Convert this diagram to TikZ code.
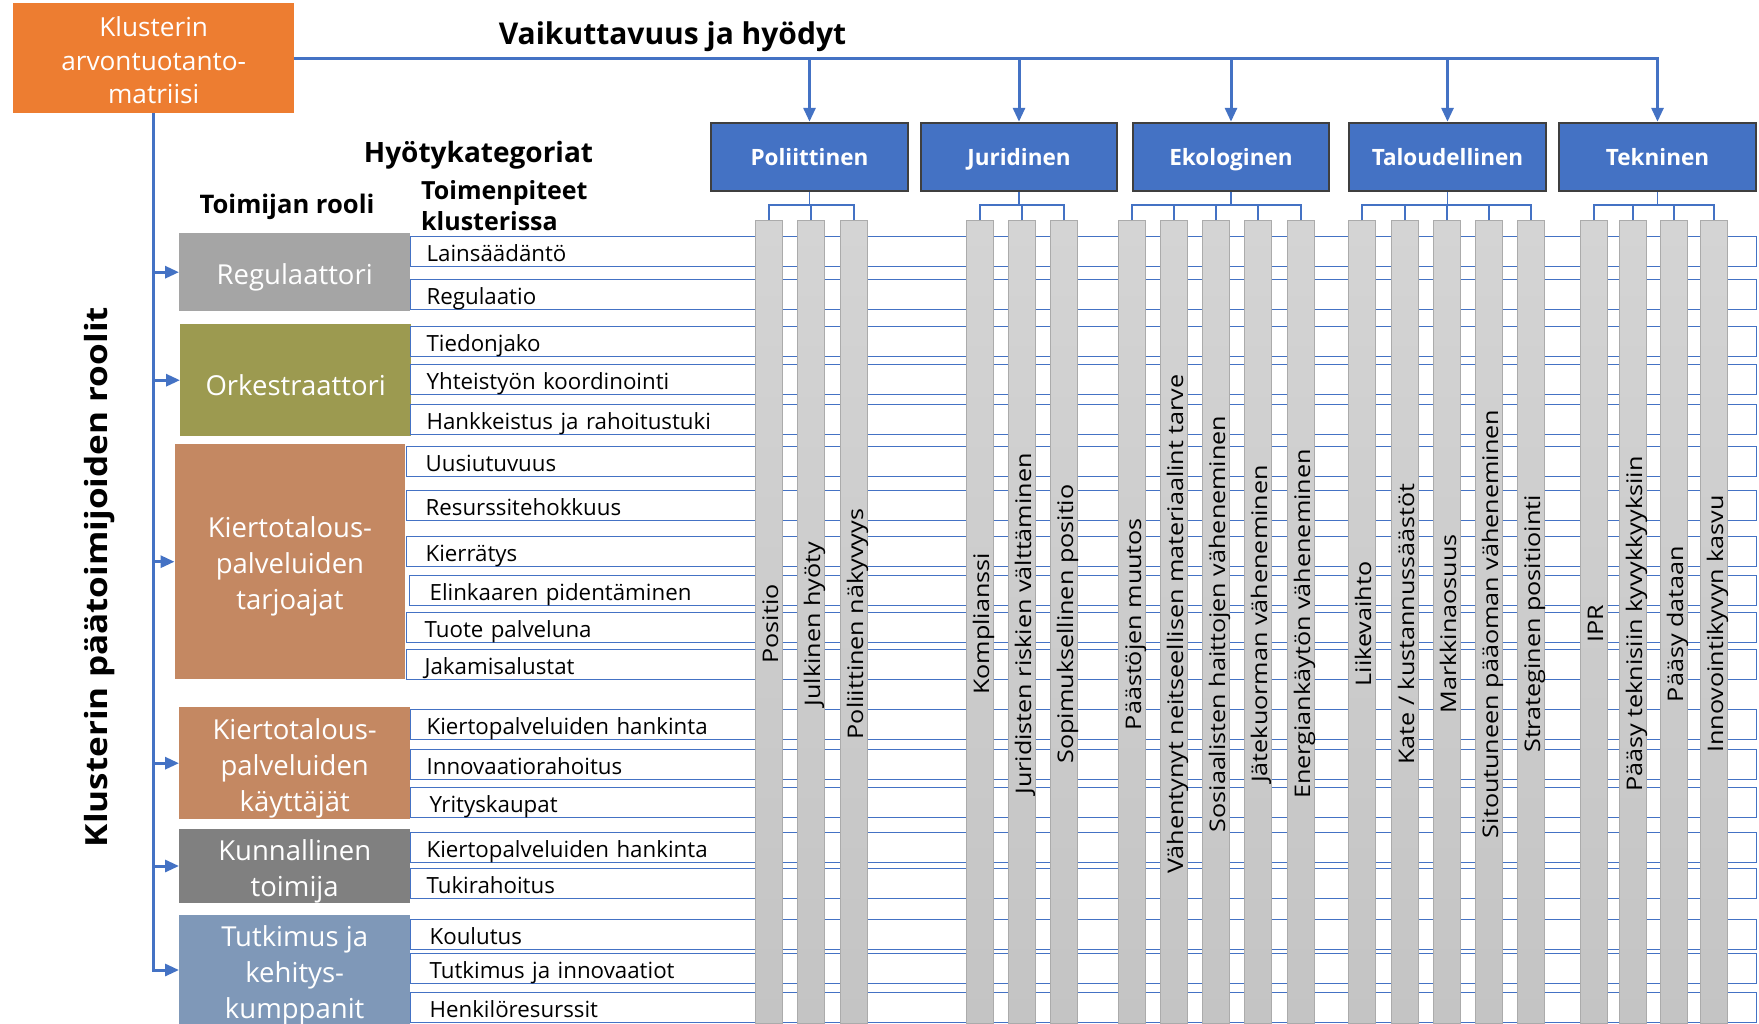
\documentclass[tikz,border=0pt]{standalone}
\usepackage{fontspec}
\setmainfont{Open Sans}
\newfontfamily\vertfam{Open Sans}[FakeStretch=1.17]
\newfontfamily\sidefam{Open Sans}[FakeStretch=1.15]
\usetikzlibrary{arrows.meta,calc}
\definecolor{lnblue}{HTML}{4472C4}
\definecolor{catdraw}{HTML}{3F3F3F}
\definecolor{orgc}{HTML}{ED7D31}
\definecolor{regc}{HTML}{A5A5A5}
\definecolor{orkc}{HTML}{9C9A50}
\definecolor{tarc}{HTML}{C48862}
\definecolor{kunc}{HTML}{808080}
\definecolor{tutc}{HTML}{7F98B8}
\definecolor{bartop}{HTML}{D4D4D4}
\definecolor{barbot}{HTML}{C4C4C4}
\definecolor{bardraw}{HTML}{ABABAB}
\newcommand\rowfnt{\fontsize{22.3}{26}\selectfont}
\newcommand\barfnt{\vertfam\fontsize{21.5}{26}\selectfont}
\newcommand\rolefnt{\fontsize{27.5}{36}\selectfont}
\newcommand\orgfnt{\fontsize{26.2}{33.6}\selectfont}
\newcommand\catfnt{\fontsize{22.5}{27}\selectfont\bfseries}
\newcommand\headfnt{\fontsize{25}{31}\selectfont\bfseries}
\newcommand\rtop{\rule{0pt}{31pt}}
\newcommand\otop{\rule{0pt}{24.4pt}}
\begin{document}
\begin{tikzpicture}[x=1pt,y=-1pt,
  mainln/.style={draw=lnblue,line width=3pt},
  conn/.style={draw=lnblue,line width=1.8pt},
  arr/.style={-{Triangle[length=14pt,width=12pt]}},
  rolebox/.style={anchor=north west,text=white,align=center,font=\rolefnt,inner sep=0pt},
  rowbox/.style n args={2}{anchor=north west,draw=lnblue,line width=1.2pt,fill=white,
     inner xsep=#1pt,text width=#2pt,inner ysep=0pt,minimum height=30pt,align=left,
     font=\rowfnt,text height=23pt,text depth=3pt},
  catbox/.style={draw=catdraw,line width=2.5pt,fill=lnblue,text=white,font=\catfnt,
     minimum height=68pt,inner sep=0pt,text height=22pt,text depth=6pt},
  bar/.style={anchor=north,draw=bardraw,line width=1.2pt,top color=bartop,bottom color=barbot,
     minimum width=27pt,minimum height=803pt,inner sep=0pt},
  barlab/.style={rotate=90,anchor=base,inner sep=0pt,font=\barfnt},
  head/.style={inner sep=0pt,font=\headfnt}
]
\fill[white] (0,0) rectangle (1759,1023);
\useasboundingbox (0,0) rectangle (1759,1023);

% top-left box and headings
\node[fill=orgc,text=white,font=\orgfnt,align=center,minimum width=281pt,minimum height=110pt,inner sep=0pt,anchor=north west]
  (org) at (13,3) {\otop Klusterin\\arvontuotanto-\\matriisi};
\node[head,font=\fontsize{30}{36}\selectfont\bfseries,anchor=base] (ttl) at (672.5,44) {Vaikuttavuus ja hyödyt};
\node[head,font=\fontsize{28}{34}\selectfont\bfseries,anchor=base] (hk) at (478.5,162) {Hyötykategoriat};
\node[head,font=\fontsize{25.6}{31}\selectfont\bfseries,anchor=base] (tr) at (287,213) {Toimijan rooli};
\node[head,anchor=base west] (tp1) at (421,199) {Toimenpiteet};
\node[head,anchor=base west] (tp2) at (421,230) {klusterissa};
\node[head,font=\sidefam\fontsize{30.5}{36}\selectfont\bfseries,rotate=90,anchor=base] (side) at (107,577) {Klusterin päätoimijoiden roolit};

% category boxes
\node[catbox,minimum width=197pt] (c1) at (809.5,157) {Poliittinen};
\node[catbox,minimum width=196pt] (c2) at (1019,157) {Juridinen};
\node[catbox,minimum width=196pt] (c3) at (1231,157) {Ekologinen};
\node[catbox,minimum width=197pt] (c4) at (1447.5,157) {Taloudellinen};
\node[catbox,minimum width=197pt] (c5) at (1657.5,157) {Tekninen};

% role boxes
\node[rolebox,fill=regc,minimum width=231pt,minimum height=78pt] (ro1) at (179,233) {\rtop Regulaattori};
\node[rolebox,fill=orkc,minimum width=231pt,minimum height=112pt] (ro2) at (180,324) {\rtop Orkestraattori};
\node[rolebox,fill=tarc,minimum width=230.5pt,minimum height=235pt] (ro3) at (174.5,444) {\rtop Kiertotalous-\\palveluiden\\tarjoajat};
\node[rolebox,fill=tarc,minimum width=231pt,minimum height=112pt] (ro4) at (179,707) {\rtop Kiertotalous-\\palveluiden\\käyttäjät};
\node[rolebox,fill=kunc,minimum width=231pt,minimum height=72pt] (ro5) at (179,829) {\rtop Kunnallinen\\toimija};
\node[rolebox,fill=tutc,minimum width=231pt,minimum height=106pt] (ro6) at (179,915) {\rtop Tutkimus ja\\kehitys-\\kumppanit};

% rows
\node[rowbox={16}{1314}] (w1) at (410,236) {Lainsäädäntö};
\node[rowbox={16}{1314}] (w2) at (410,279) {Regulaatio};
\node[rowbox={16}{1314}] (w3) at (410,326) {Tiedonjako};
\node[rowbox={16}{1314}] (w4) at (410,364) {Yhteistyön koordinointi};
\node[rowbox={16}{1314}] (w5) at (410,404) {Hankkeistus ja rahoitustuki};
\node[rowbox={19}{1312}] (w6) at (406,446) {Uusiutuvuus};
\node[rowbox={19}{1312}] (w7) at (406,490) {Resurssitehokkuus};
\node[rowbox={19}{1312}] (w8) at (406,536) {Kierrätys};
\node[rowbox={20}{1307}] (w9) at (409,575) {Elinkaaren pidentäminen};
\node[rowbox={18}{1314}] (w10) at (406,612) {Tuote palveluna};
\node[rowbox={18}{1314}] (w11) at (406,649) {Jakamisalustat};
\node[rowbox={16}{1314}] (w12) at (410,709) {Kiertopalveluiden hankinta};
\node[rowbox={16}{1314}] (w13) at (410,749) {Innovaatiorahoitus};
\node[rowbox={19}{1308}] (w14) at (410,787) {Yrityskaupat};
\node[rowbox={16}{1314}] (w15) at (410,832) {Kiertopalveluiden hankinta};
\node[rowbox={16}{1314}] (w16) at (410,868) {Tukirahoitus};
\node[rowbox={19}{1308}] (w17) at (410,919) {Koulutus};
\node[rowbox={19}{1308}] (w18) at (410,953) {Tutkimus ja innovaatiot};
\node[rowbox={19}{1308}] (w19) at (410,992) {Henkilöresurssit};

% bars
\node[bar] (bp1) at (769,220) {};
\node[bar] (bp2) at (811,220) {};
\node[bar] (bp3) at (854,220) {};
\node[bar] (bj1) at (980,220) {};
\node[bar] (bj2) at (1022,220) {};
\node[bar] (bj3) at (1064,220) {};
\node[bar] (be1) at (1132,220) {};
\node[bar] (be2) at (1174,220) {};
\node[bar] (be3) at (1216,220) {};
\node[bar] (be4) at (1258,220) {};
\node[bar] (be5) at (1301,220) {};
\node[bar] (bt1) at (1362,220) {};
\node[bar] (bt2) at (1405,220) {};
\node[bar] (bt3) at (1447,220) {};
\node[bar] (bt4) at (1489,220) {};
\node[bar] (bt5) at (1531,220) {};
\node[bar] (bk1) at (1594,220) {};
\node[bar] (bk2) at (1633,220) {};
\node[bar] (bk3) at (1674,220) {};
\node[bar] (bk4) at (1714,220) {};

% bar labels
\node[barlab] (lp1) at (778,624) {Positio};
\node[barlab] (lp2) at (820,624) {Julkinen hyöty};
\node[barlab] (lp3) at (863,624) {Poliittinen näkyvyys};
\node[barlab] (lj1) at (989,624) {Komplianssi};
\node[barlab] (lj2) at (1031,624) {Juridisten riskien välttäminen};
\node[barlab] (lj3) at (1073,624) {Sopimuksellinen positio};
\node[barlab] (le1) at (1141,624) {Päästöjen muutos};
\node[barlab] (le2) at (1183,624) {Vähentynyt neitseellisen materiaalint tarve};
\node[barlab] (le3) at (1225,624) {Sosiaalisten haittojen väheneminen};
\node[barlab] (le4) at (1267,624) {Jätekuorman väheneminen};
\node[barlab] (le5) at (1310,624) {Energiankäytön väheneminen};
\node[barlab] (lt1) at (1371,624) {Liikevaihto};
\node[barlab] (lt2) at (1414,624) {Kate / kustannussäästöt};
\node[barlab] (lt3) at (1456,624) {Markkinaosuus};
\node[barlab] (lt4) at (1498,624) {Sitoutuneen pääoman väheneminen};
\node[barlab] (lt5) at (1540,624) {Strateginen positiointi};
\node[barlab] (lk1) at (1603,624) {IPR};
\node[barlab] (lk2) at (1642,624) {Pääsy teknisiin kyvykkyyksiin};
\node[barlab] (lk3) at (1683,624) {Pääsy dataan};
\node[barlab] (lk4) at (1723,624) {Innovointikyvyn kasvu};

% top connectors
\draw[mainln] (org.east) -- (org.east -| c4.north);
\draw[mainln,arr] (org.east) -| (c5.north);
\foreach \c in {c1,c2,c3,c4}
  \draw[mainln,arr] (org.east -| \c.north) -- (\c.north);

% left connectors
\draw[mainln,arr] (org.south) |- (ro6.west);
\foreach \r in {ro1,ro2,ro3,ro4,ro5}
  \draw[mainln,arr] (org.south |- \r.west) -- (\r.west);

% category trees
\coordinate (jp) at (809.5,205);
\coordinate (jj) at (1019,205);
\coordinate (je) at (1231,205);
\coordinate (jt) at (1447.5,205);
\coordinate (jk) at (1657.5,205);
\draw[conn] (c1.south) -- (jp);
\draw[conn] (c2.south) -- (jj);
\draw[conn] (c3.south) -- (je);
\draw[conn] (c4.south) -- (jt);
\draw[conn] (c5.south) -- (jk);
\foreach \b in {bp1,bp2,bp3} \draw[conn] (\b.north) |- (jp);
\foreach \b in {bj1,bj2,bj3} \draw[conn] (\b.north) |- (jj);
\foreach \b in {be1,be2,be3,be4,be5} \draw[conn] (\b.north) |- (je);
\foreach \b in {bt1,bt2,bt3,bt4,bt5} \draw[conn] (\b.north) |- (jt);
\foreach \b in {bk1,bk2,bk3,bk4} \draw[conn] (\b.north) |- (jk);
\end{tikzpicture}
\end{document}
